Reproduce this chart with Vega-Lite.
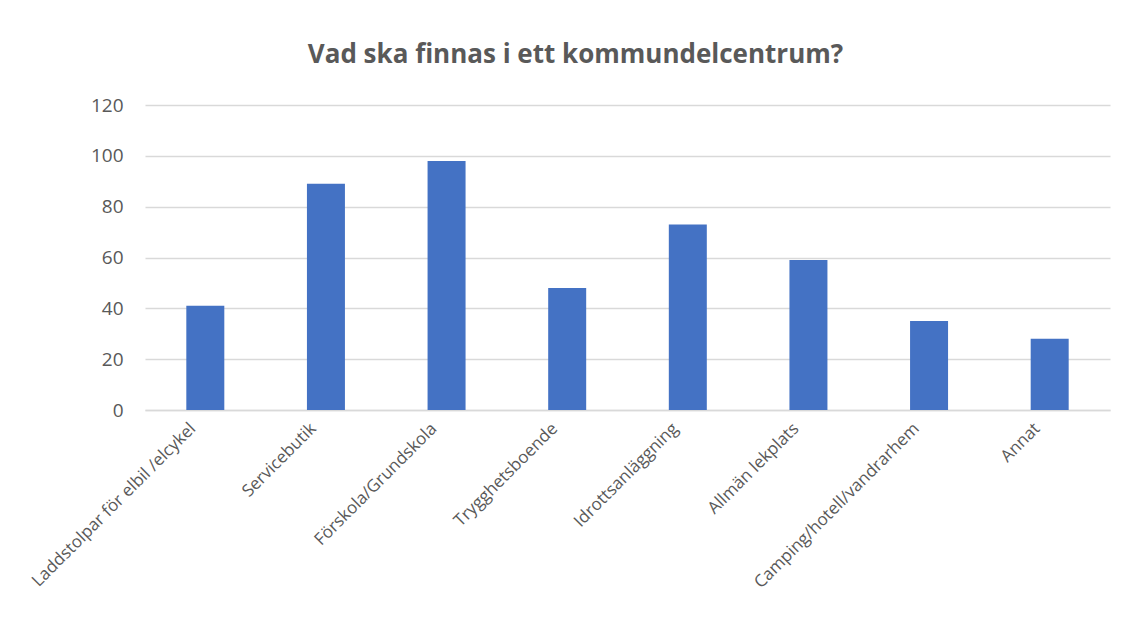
{
  "$schema": "https://vega.github.io/schema/vega-lite/v6.json",
  "width": 965,
  "height": 305,
  "autosize": {"type": "none"},
  "padding": {"left": 145, "top": 105, "right": 15, "bottom": 218},
  "background": "white",
  "title": {
    "text": "Vad ska finnas i ett kommundelcentrum?",
    "font": "Open Sans",
    "fontSize": 26,
    "fontWeight": "bold",
    "color": "#595959",
    "anchor": "middle",
    "dx": -52,
    "offset": 28
  },
  "data": {
    "values": [
      {"kategori": "Laddstolpar för elbil /elcykel", "antal": 41},
      {"kategori": "Servicebutik", "antal": 89},
      {"kategori": "Förskola/Grundskola", "antal": 98},
      {"kategori": "Trygghetsboende", "antal": 48},
      {"kategori": "Idrottsanläggning", "antal": 73},
      {"kategori": "Allmän lekplats", "antal": 59},
      {"kategori": "Camping/hotell/vandrarhem", "antal": 35},
      {"kategori": "Annat", "antal": 28}
    ]
  },
  "mark": {"type": "bar", "color": "#4472C4"},
  "encoding": {
    "x": {
      "field": "kategori",
      "type": "nominal",
      "sort": null,
      "scale": {"paddingInner": 0.685, "paddingOuter": 0.3425},
      "axis": {
        "title": null,
        "labelAngle": -45,
        "labelAlign": "right",
        "labelBaseline": "top",
        "labelFont": "Open Sans",
        "labelFontSize": 17,
        "labelColor": "#595959",
        "ticks": false,
        "domainColor": "#d9d9d9",
        "domainWidth": 1.5,
        "labelPadding": 10,
        "labelOffset": -18,
        "labelLimit": 400
      }
    },
    "y": {
      "field": "antal",
      "type": "quantitative",
      "scale": {"domain": [0, 120]},
      "axis": {
        "title": null,
        "values": [0, 20, 40, 60, 80, 100, 120],
        "domain": false,
        "ticks": false,
        "labelFont": "Open Sans",
        "labelFontSize": 19,
        "labelColor": "#595959",
        "labelPadding": 22,
        "gridColor": "#d9d9d9",
        "gridWidth": 1.5
      }
    }
  },
  "config": {"view": {"stroke": null}}
}
